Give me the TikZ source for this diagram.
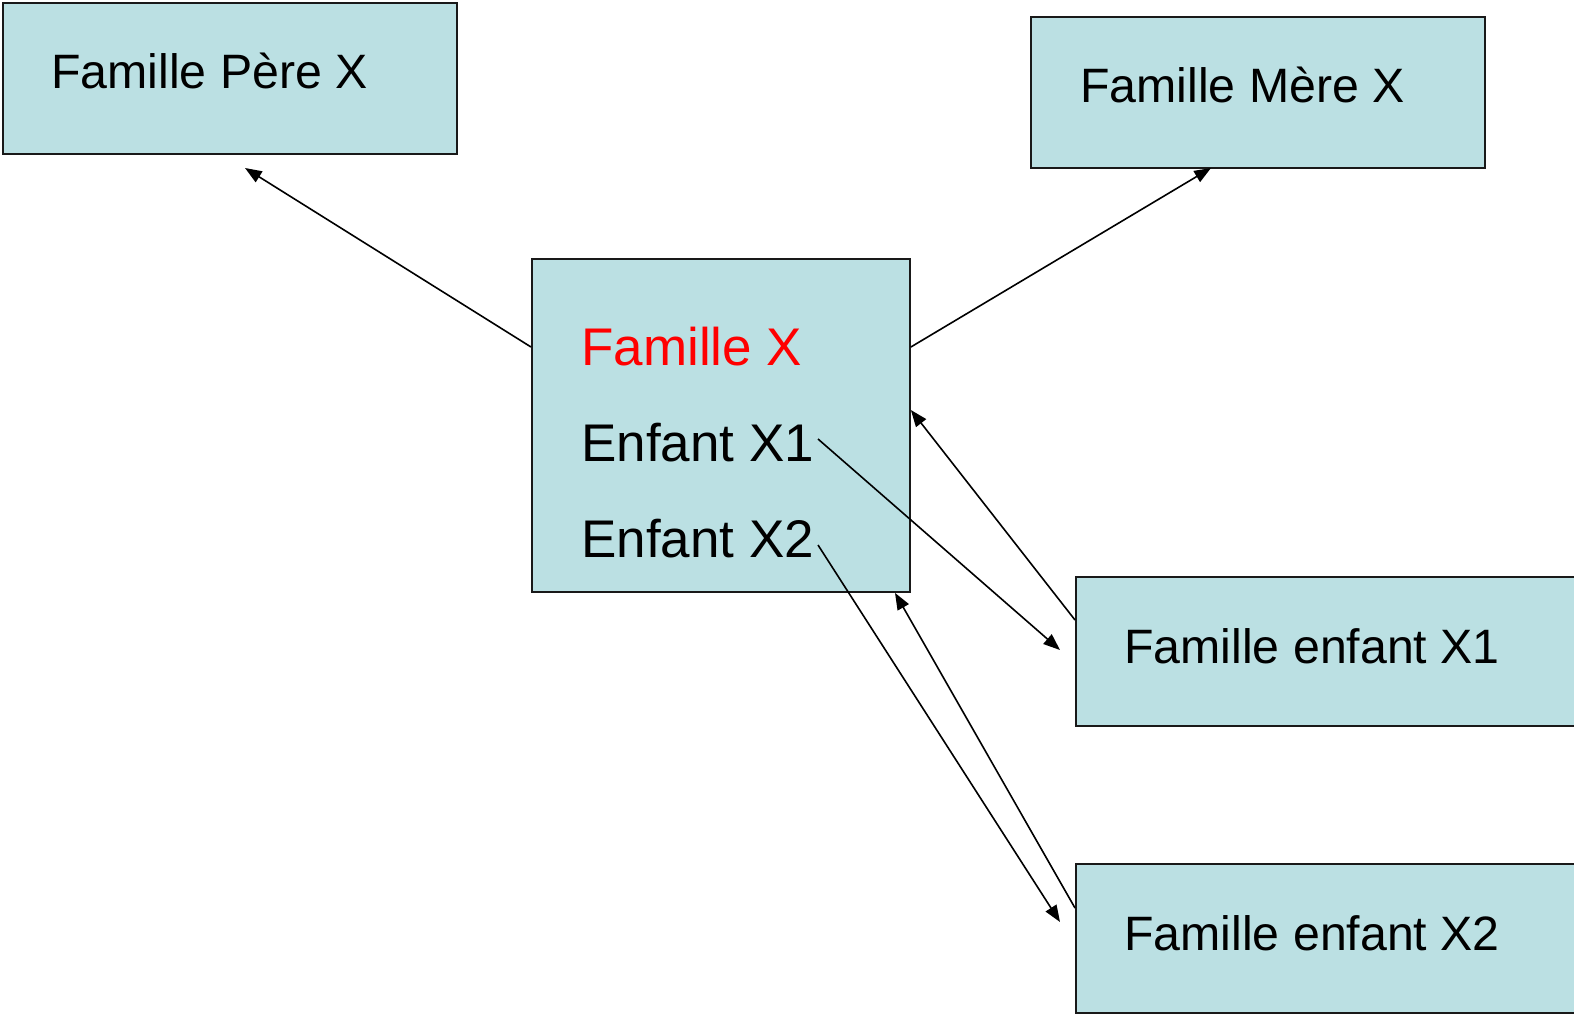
\documentclass[tikz,border=0pt]{standalone}
\usepackage{fontspec}
\setmainfont{Liberation Sans}
\usetikzlibrary{arrows.meta}
\definecolor{boxfill}{RGB}{187,224,227}
\definecolor{famred}{RGB}{255,0,0}
\tikzset{
  box/.style={draw=black!90, line width=1.4pt, fill=boxfill, rectangle, inner sep=0pt, anchor=north west},
  lbl/.style={inner sep=0pt, anchor=base west, font=\fontsize{36.2}{40}\selectfont},
  biglbl/.style={inner sep=0pt, anchor=base west, font=\fontsize{39.75}{44}\selectfont},
  conn/.style={line width=1.2pt, -{Triangle[length=12.5pt,width=9.5pt]}}
}
\begin{document}
\begin{tikzpicture}[x=0.75pt,y=-0.75pt]
\useasboundingbox (0,0) rectangle (1574,1014);
\clip (0,0) rectangle (1574,1014);
% boxes
\node[box, minimum width=340.5pt, minimum height=113.25pt] (pere) at (2,2) {};
\node[box, minimum width=340.5pt, minimum height=113.25pt] (mere) at (1030,16) {};
\node[box, minimum width=283.5pt, minimum height=249.75pt] (fam) at (531,258) {};
\node[box, minimum width=393.75pt, minimum height=111.75pt] (e1) at (1075,576) {};
\node[box, minimum width=393.75pt, minimum height=111.75pt] (e2) at (1075,863) {};
% texts
\node[lbl] (tpere) at (51,88) {Famille Père X};
\node[lbl] (tmere) at (1080,102) {Famille Mère X};
\node[biglbl, text=famred] (tfam) at (581,365) {Famille X};
\node[biglbl] (tx1) at (581,461) {Enfant X1};
\node[biglbl] (tx2) at (581,557) {Enfant X2};
\node[lbl] (te1) at (1124,663) {Famille enfant X1};
\node[lbl] (te2) at (1124,950) {Famille enfant X2};
% connector end points
\coordinate (pTip) at (245,168);
\coordinate (mTip) at (1211,168);
\coordinate (x1Start) at (818,439);
\coordinate (x1Tip) at (1060,650);
\coordinate (x2Start) at (818,545);
\coordinate (x2Tip) at (1060,922);
% connectors
\draw[conn] (fam.west |- 0,347) -- (pTip);
\draw[conn] (fam.east |- 0,347) -- (mTip);
\draw[conn] (e1.west |- 0,620) -- (fam.east |- 0,410);
\draw[conn] (x1Start) -- (x1Tip);
\draw[conn] (x2Start) -- (x2Tip);
\draw[conn] (e2.west |- 0,908) -- (fam.south -| 895,0);
\end{tikzpicture}
\end{document}
